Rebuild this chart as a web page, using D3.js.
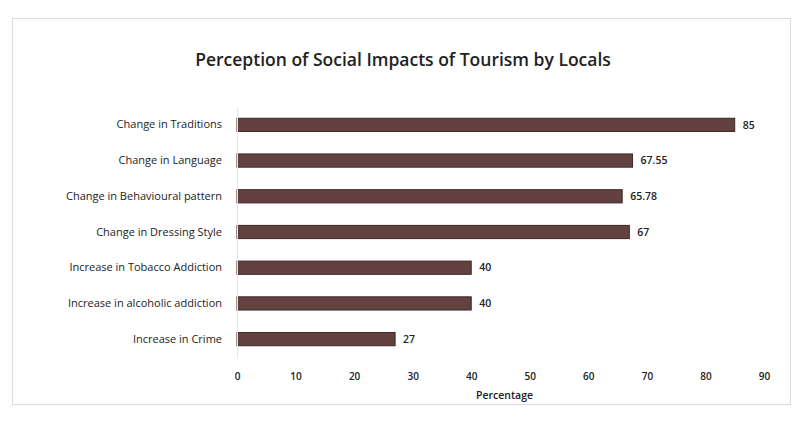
<!DOCTYPE html>
<html>
<head>
<meta charset="utf-8">
<script src="https://cdn.jsdelivr.net/npm/d3@7"></script>
<style>
  html, body { margin: 0; padding: 0; background: #ffffff; }
  svg { display: block; }
  text { font-family: "Open Sans", "DejaVu Sans", sans-serif; fill: #222; }
</style>
</head>
<body>
<svg id="chart" width="802" height="421"></svg>
<script>
const categories = [
  "Change in Traditions",
  "Change in Language",
  "Change in Behavioural pattern",
  "Change in Dressing Style",
  "Increase in Tobacco Addiction",
  "Increase in alcoholic addiction",
  "Increase in Crime"
];
const values = [85, 67.55, 65.78, 67, 40, 40, 27];
const valueLabels = ["85", "67.55", "65.78", "67", "40", "40", "27"];
const tickValues = [0, 10, 20, 30, 40, 50, 60, 70, 80, 90];
const titleText = "Perception of Social Impacts of Tourism by Locals";
const xTitle = "Percentage";

const svg = d3.select("#chart");

// chart frame
svg.append("rect")
  .attr("x", 12.5).attr("y", 18.5)
  .attr("width", 778).attr("height", 386)
  .attr("fill", "#fff")
  .attr("stroke", "#dcdcdc").attr("stroke-width", 1);

const x = d3.scaleLinear().domain([0, 90]).range([237, 764]);
const y = d3.scaleBand().domain(categories).range([107, 357]).paddingInner(0.63).paddingOuter(0.315);

svg.append("text")
  .attr("x", 403).attr("y", 66)
  .attr("text-anchor", "middle")
  .attr("font-size", 17.5)
  .attr("font-weight", "600")
  .text(titleText);

// bars
svg.append("g").selectAll("rect")
  .data(values)
  .join("rect")
  .attr("x", x(0))
  .attr("y", (d, i) => y(categories[i]))
  .attr("width", d => x(d) - x(0))
  .attr("height", y.bandwidth())
  .attr("fill", "#634140")
  .attr("stroke", "#3a2826")
  .attr("stroke-width", 1);

// value labels
svg.append("g").selectAll("text")
  .data(values)
  .join("text")
  .attr("x", d => x(d) + 8)
  .attr("y", (d, i) => y(categories[i]) + y.bandwidth() / 2)
  .attr("dy", "0.35em")
  .attr("font-size", 10.5)
  .attr("font-weight", "600")
  .text((d, i) => valueLabels[i]);

// y axis
const yAxis = svg.append("g")
  .attr("transform", `translate(${x(0)},0)`)
  .call(d3.axisLeft(y).tickSize(0).tickPadding(15));
yAxis.select(".domain").attr("stroke", "#e4e4e4");
yAxis.selectAll("text").attr("font-size", 11).attr("font-family", "'Open Sans', 'DejaVu Sans', sans-serif").attr("fill", "#222");

// x axis
const xAxis = svg.append("g")
  .attr("transform", `translate(0,364)`)
  .call(d3.axisBottom(x).tickValues(tickValues).tickSize(0).tickPadding(9));
xAxis.select(".domain").remove();
xAxis.selectAll("text").attr("font-size", 10).attr("font-weight", "600").attr("font-family", "'Open Sans', 'DejaVu Sans', sans-serif").attr("fill", "#222");

svg.append("text")
  .attr("x", (x(0) + x(90)) / 2 + 4).attr("y", 399)
  .attr("text-anchor", "middle")
  .attr("font-size", 10.5)
  .attr("font-weight", "600")
  .text(xTitle);
</script>
</body>
</html>
